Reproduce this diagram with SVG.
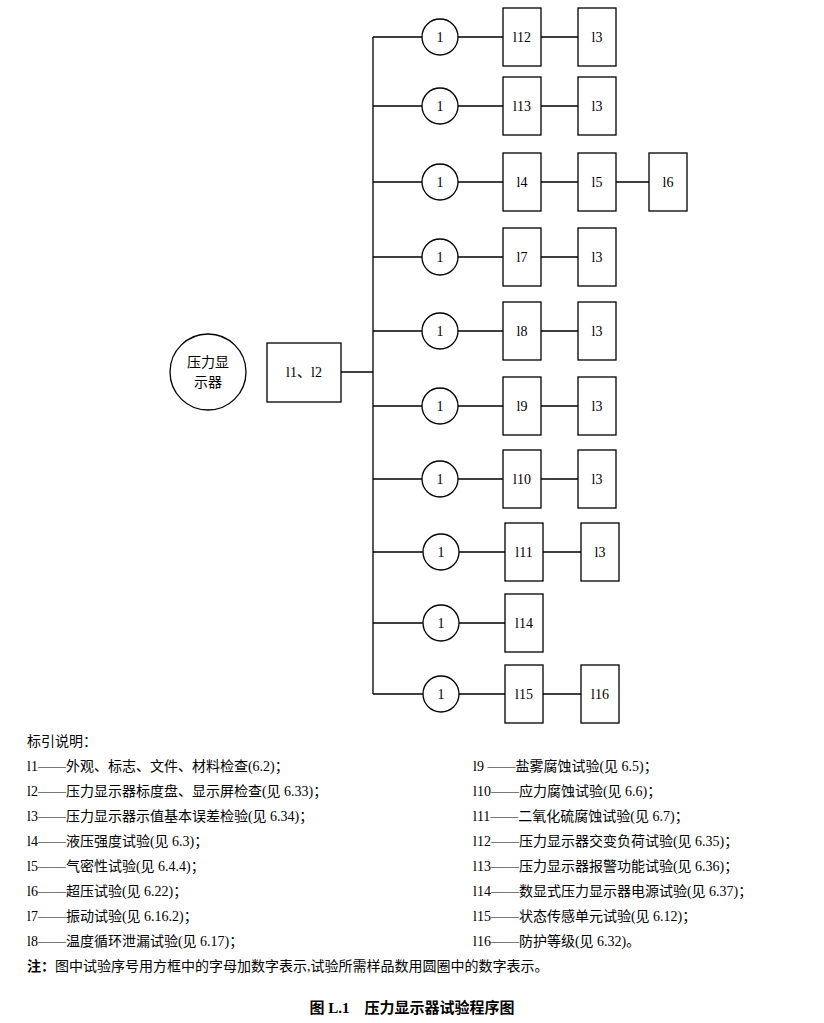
<svg xmlns="http://www.w3.org/2000/svg" width="824" height="1023" viewBox="0 0 824 1023">
<style>
.s{fill:#fff;stroke:#000;stroke-width:1.3}
.l{stroke:#000;stroke-width:1.3;fill:none}
.t{font-family:"Liberation Serif","Noto Sans CJK SC",serif;font-size:14px;fill:#000}
.c{text-anchor:middle;dominant-baseline:central}
.b{font-weight:bold}
</style>
<rect width="824" height="1023" fill="#fff"/>
<g id="connectors">
<path class="l" d="M373 37V694M341 372H373"/>
<path class="l" d="M373 37H422M458 37H503M541 37H578"/>
<path class="l" d="M373 106H422M458 106H503M541 106H578"/>
<path class="l" d="M373 182H422M458 182H503M541 182H578M616 182H649"/>
<path class="l" d="M373 257H422M458 257H503M541 257H578"/>
<path class="l" d="M373 331H422M458 331H503M541 331H578"/>
<path class="l" d="M373 406H422M458 406H503M541 406H578"/>
<path class="l" d="M373 479H422M458 479H503M541 479H578"/>
<path class="l" d="M373 552H423M459 552H505M543 552H581"/>
<path class="l" d="M373 623H423M459 623H505"/>
<path class="l" d="M373 694H423M459 694H505M543 694H581"/>
</g>
<g id="main"><circle class="s" cx="208" cy="372" r="38"/><text class="t c" x="208" y="362">压力显</text><text class="t c" x="208" y="382">示器</text></g>
<g id="l1l2"><rect class="s" x="267" y="343" width="74" height="59"/><text class="t c" x="304" y="372">l1、l2</text></g>
<g id="r1"><circle class="s" cx="440" cy="37" r="18"/><text class="t c" x="440" y="37">1</text><rect class="s" x="503" y="8" width="38" height="58"/><text class="t c" x="522" y="37">l12</text><rect class="s" x="578" y="8" width="38" height="58"/><text class="t c" x="597" y="37">l3</text></g>
<g id="r2"><circle class="s" cx="440" cy="106" r="18"/><text class="t c" x="440" y="106">1</text><rect class="s" x="503" y="77" width="38" height="58"/><text class="t c" x="522" y="106">l13</text><rect class="s" x="578" y="77" width="38" height="58"/><text class="t c" x="597" y="106">l3</text></g>
<g id="r3"><circle class="s" cx="440" cy="182" r="18"/><text class="t c" x="440" y="182">1</text><rect class="s" x="503" y="153" width="38" height="58"/><text class="t c" x="522" y="182">l4</text><rect class="s" x="578" y="153" width="38" height="58"/><text class="t c" x="597" y="182">l5</text><rect class="s" x="649" y="153" width="38" height="58"/><text class="t c" x="668" y="182">l6</text></g>
<g id="r4"><circle class="s" cx="440" cy="257" r="18"/><text class="t c" x="440" y="257">1</text><rect class="s" x="503" y="228" width="38" height="58"/><text class="t c" x="522" y="257">l7</text><rect class="s" x="578" y="228" width="38" height="58"/><text class="t c" x="597" y="257">l3</text></g>
<g id="r5"><circle class="s" cx="440" cy="331" r="18"/><text class="t c" x="440" y="331">1</text><rect class="s" x="503" y="302" width="38" height="58"/><text class="t c" x="522" y="331">l8</text><rect class="s" x="578" y="302" width="38" height="58"/><text class="t c" x="597" y="331">l3</text></g>
<g id="r6"><circle class="s" cx="440" cy="406" r="18"/><text class="t c" x="440" y="406">1</text><rect class="s" x="503" y="377" width="38" height="58"/><text class="t c" x="522" y="406">l9</text><rect class="s" x="578" y="377" width="38" height="58"/><text class="t c" x="597" y="406">l3</text></g>
<g id="r7"><circle class="s" cx="440" cy="479" r="18"/><text class="t c" x="440" y="479">1</text><rect class="s" x="503" y="450" width="38" height="58"/><text class="t c" x="522" y="479">l10</text><rect class="s" x="578" y="450" width="38" height="58"/><text class="t c" x="597" y="479">l3</text></g>
<g id="r8"><circle class="s" cx="441" cy="552" r="18"/><text class="t c" x="441" y="552">1</text><rect class="s" x="505" y="523" width="38" height="58"/><text class="t c" x="524" y="552">l11</text><rect class="s" x="581" y="523" width="38" height="58"/><text class="t c" x="600" y="552">l3</text></g>
<g id="r9"><circle class="s" cx="441" cy="623" r="18"/><text class="t c" x="441" y="623">1</text><rect class="s" x="505" y="594" width="38" height="58"/><text class="t c" x="524" y="623">l14</text></g>
<g id="r10"><circle class="s" cx="441" cy="694" r="18"/><text class="t c" x="441" y="694">1</text><rect class="s" x="505" y="665" width="38" height="58"/><text class="t c" x="524" y="694">l15</text><rect class="s" x="581" y="665" width="38" height="58"/><text class="t c" x="600" y="694">l16</text></g>
<g id="legend" class="t">
<text x="27" y="746">标引说明：</text>
<text x="27" y="771">l1——外观、标志、文件、材料检查(6.2)；</text>
<text x="27" y="796">l2——压力显示器标度盘、显示屏检查(见 6.33)；</text>
<text x="27" y="821">l3——压力显示器示值基本误差检验(见 6.34)；</text>
<text x="27" y="846">l4——液压强度试验(见 6.3)；</text>
<text x="27" y="871">l5——气密性试验(见 6.4.4)；</text>
<text x="27" y="896">l6——超压试验(见 6.22)；</text>
<text x="27" y="921">l7——振动试验(见 6.16.2)；</text>
<text x="27" y="946">l8——温度循环泄漏试验(见 6.17)；</text>
<text x="473" y="771">l9 ——盐雾腐蚀试验(见 6.5)；</text>
<text x="473" y="796">l10——应力腐蚀试验(见 6.6)；</text>
<text x="473" y="821">l11——二氧化硫腐蚀试验(见 6.7)；</text>
<text x="473" y="846">l12——压力显示器交变负荷试验(见 6.35)；</text>
<text x="473" y="871">l13——压力显示器报警功能试验(见 6.36)；</text>
<text x="473" y="896">l14——数显式压力显示器电源试验(见 6.37)；</text>
<text x="473" y="921">l15——状态传感单元试验(见 6.12)；</text>
<text x="473" y="946">l16——防护等级(见 6.32)。</text>
<text x="27" y="971"><tspan class="b">注：</tspan>图中试验序号用方框中的字母加数字表示,试验所需样品数用圆圈中的数字表示。</text>
<text class="b" x="412" y="1013" text-anchor="middle" font-size="15">图 L.1　压力显示器试验程序图</text>
</g>
</svg>
